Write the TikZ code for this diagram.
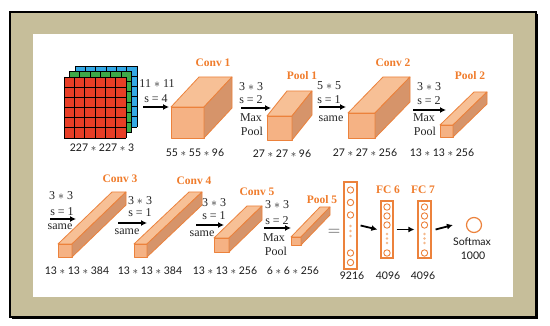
\documentclass[tikz,border=0pt]{standalone}
\usepackage{fontspec}
\setmainfont{Liberation Serif}
\setsansfont{Lato}
\usetikzlibrary{arrows.meta,calc}
\definecolor{frameback}{RGB}{198,190,154}
\definecolor{boxfront}{RGB}{245,178,132}
\definecolor{boxtop}{RGB}{247,192,150}
\definecolor{boxside}{RGB}{214,148,106}
\definecolor{boxedge}{RGB}{236,130,60}
\definecolor{lblorange}{RGB}{240,125,45}
\definecolor{gridred}{RGB}{232,62,38}
\definecolor{gridgreen}{RGB}{62,168,72}
\definecolor{gridblue}{RGB}{52,168,228}
\definecolor{dotorange}{RGB}{245,185,140}

% cuboid: left, right, top, bottom of front face, depth dx, dy
\newcommand{\layerbox}[6]{%
    \filldraw[frontface] (#1,#3) rectangle (#2,#4);
    \filldraw[topface] (#1,#3) -- ++(#5,-#6) -- ++({#2-#1},0) -- (#2,#3) -- cycle;
    \filldraw[sideface] (#2,#3) -- ++(#5,-#6) -- ++(0,{#4-#3}) -- (#2,#4) -- cycle;
}

\begin{document}
\begin{tikzpicture}[x=1pt,y=-1pt,
    frontface/.style={fill=boxfront, draw=boxedge, line width=0.8pt, line join=round},
    topface/.style={fill=boxtop, draw=boxedge, line width=0.8pt, line join=round},
    sideface/.style={fill=boxside, draw=boxedge, line width=0.8pt, line join=round},
    num/.style={font=\sffamily\fontsize{10.5}{11}\selectfont, text=black!90, inner sep=0pt},
    opt/.style={font=\fontsize{12}{13}\selectfont, text=black!85, inner sep=0pt},
    ttl/.style={font=\bfseries\fontsize{11.5}{12}\selectfont, text=lblorange, inner sep=0pt},
    arr/.style={-{Latex[length=6pt,width=6pt]}, line width=1.8pt},
    fcbar/.style={draw=boxedge, line width=1.2pt, fill=white, inner sep=0pt},
    neuron/.style={draw=boxedge, line width=0.9pt, fill=white}]
    \useasboundingbox (0,0) rectangle (550,326);

    % Frame
    \fill[frameback] (10,12) rectangle (536,317);
    \draw[line width=2pt] (10,12) rectangle (536,317);
    \draw[line width=1.2pt] (537.5,14) -- (537.5,318.5) -- (12,318.5);
    \fill[white] (33,34) rectangle (513,297);

    % Input image, three channels
    \foreach \gc/\off in {gridblue/11, gridgreen/5.5, gridred/0} {
        \begin{scope}[shift={({64+\off},{77-\off})}]
            \fill[\gc] (0,0) rectangle (62,61);
            \foreach \i in {0,...,6} {
                \draw[line width=0.9pt] ({\i*62/6},0) -- ({\i*62/6},61);
                \draw[line width=0.9pt] (0,{\i*61/6}) -- (62,{\i*61/6});
            }
        \end{scope}
    }
    \node[num] (inp) at (102,148) {227 $\ast$ 227 $\ast$ 3};

    % Conv 1
    \coordinate (a1s) at (143,107);
    \coordinate (a1e) at (169,107);
    \draw[arr] (a1s) -- (a1e);
    \node[opt] (k1) at (157,84) {11 $\ast$ 11};
    \node[opt] (s1) at (156,99) {s = 4};
    \layerbox{171}{204}{107}{138}{28}{30}
    \node[ttl] (tConv1) at (213,63) {Conv 1};
    \node[num] (dConv1) at (195,153) {55 $\ast$ 55 $\ast$ 96};

    % Pool 1
    \coordinate (a2s) at (241,108);
    \coordinate (a2e) at (271,108);
    \draw[arr] (a2s) -- (a2e);
    \node[opt] (k2) at (251,87) {3 $\ast$ 3};
    \node[opt] (s2) at (251,100) {s = 2};
    \node[opt] (m2) at (251,118) {Max};
    \node[opt] (p2) at (252,131) {Pool};
    \layerbox{267}{292}{116}{140}{20}{25}
    \node[ttl] (tPool1) at (302,76) {Pool 1};
    \node[num] (dPool1) at (282,154) {27 $\ast$ 27 $\ast$ 96};

    % Conv 2
    \coordinate (a3s) at (319,107);
    \coordinate (a3e) at (346,107);
    \draw[arr] (a3s) -- (a3e);
    \node[opt] (k3) at (329,86) {5 $\ast$ 5};
    \node[opt] (s3) at (329,100) {s = 1};
    \node[opt] (m3) at (331,119) {same};
    \layerbox{348}{375}{113}{138}{35}{36}
    \node[ttl] (tConv2) at (393,63) {Conv 2};
    \node[num] (dConv2) at (365,153) {27 $\ast$ 27 $\ast$ 256};

    % Pool 2
    \coordinate (a4s) at (413,110);
    \coordinate (a4e) at (446,110);
    \draw[arr] (a4s) -- (a4e);
    \node[opt] (k4) at (429,87) {3 $\ast$ 3};
    \node[opt] (s4) at (429,101) {s = 2};
    \node[opt] (m4) at (424,118) {Max};
    \node[opt] (p4) at (425,131) {Pool};
    \layerbox{440}{453}{125}{137}{34}{33}
    \node[ttl] (tPool2) at (470,76) {Pool 2};
    \node[num] (dPool2) at (442,153) {13 $\ast$ 13 $\ast$ 256};

    % Conv 3
    \coordinate (b1s) at (50,219);
    \coordinate (b1e) at (76,219);
    \draw[arr] (b1s) -- (b1e);
    \node[opt] (k5) at (61,196) {3 $\ast$ 3};
    \node[opt] (s5) at (62,212) {s = 1};
    \node[opt] (m5) at (60,227) {same};
    \layerbox{58}{72}{244}{257}{54}{52}
    \node[ttl] (tConv3) at (120,179) {Conv 3};
    \node[num] (dConv3) at (77,271) {13 $\ast$ 13 $\ast$ 384};

    % Conv 4
    \coordinate (b2s) at (118,223);
    \coordinate (b2e) at (147,223);
    \draw[arr] (b2s) -- (b2e);
    \node[opt] (k6) at (140,201) {3 $\ast$ 3};
    \node[opt] (s6) at (140,213) {s = 1};
    \node[opt] (m6) at (127,232) {same};
    \layerbox{134}{147}{244}{257}{55}{52}
    \node[ttl] (tConv4) at (194,181) {Conv 4};
    \node[num] (dConv4) at (150,271) {13 $\ast$ 13 $\ast$ 384};

    % Conv 5
    \coordinate (b3s) at (196,225);
    \coordinate (b3e) at (224,225);
    \draw[arr] (b3s) -- (b3e);
    \node[opt] (k7) at (214,203) {3 $\ast$ 3};
    \node[opt] (s7) at (214,216) {s = 1};
    \node[opt] (m7) at (202,234) {same};
    \layerbox{214}{229}{238}{252}{33}{32}
    \node[ttl] (tConv5) at (257,192) {Conv 5};
    \node[num] (dConv5) at (225,271) {13 $\ast$ 13 $\ast$ 256};

    % Pool 5
    \coordinate (b4s) at (264,228);
    \coordinate (b4e) at (291,228);
    \draw[arr] (b4s) -- (b4e);
    \node[opt] (k8) at (277,205) {3 $\ast$ 3};
    \node[opt] (s8) at (277,221) {s = 2};
    \node[opt] (m8) at (274,238) {Max};
    \node[opt] (p8) at (276,251) {Pool};
    \layerbox{291}{301}{237}{245}{29}{30}
    \node[ttl] (tPool5) at (322,200) {Pool 5};
    \node[num] (dPool5) at (293,271) {6 $\ast$ 6 $\ast$ 256};

    \node[font=\fontsize{17}{17}\selectfont, text=black!75, inner sep=0pt] (eq) at (334,232) {$=$};

    % Fully connected layers
    \node[fcbar, minimum width=13pt, minimum height=87pt] (fcA) at (350.5,225.5) {};
    \foreach \yy in {190,202.5,215,253,262.5}
        \draw[neuron] (350.5,\yy) circle (3.2pt);
    \foreach \yy in {226,231,236}
        \fill[dotorange] (350.5,\yy) circle (1.4pt);
    \node[num] (nA) at (352,276) {9216};

    \node[fcbar, minimum width=12pt, minimum height=57pt] (fcB) at (387,229.5) {};
    \node[fcbar, minimum width=13pt, minimum height=57pt] (fcC) at (424.5,229.5) {};
    \foreach \xx in {387,424.5} {
        \foreach \yy in {207,216,225,253}
            \draw[neuron] (\xx,\yy) circle (3.2pt);
        \foreach \yy in {234,238.5,243}
            \fill[dotorange] (\xx,\yy) circle (1.4pt);
    }
    \node[ttl] (tFC6) at (388,190) {FC 6};
    \node[ttl] (tFC7) at (423,190) {FC 7};
    \node[num] (nB) at (388,276) {4096};
    \node[num] (nC) at (423,276) {4096};

    % Softmax
    \node[circle, draw=boxedge, line width=1.2pt, minimum size=15pt, inner sep=0pt] (smax) at (474,225) {};
    \node[num] (tSoft) at (472,242) {Softmax};
    \node[num] (nSoft) at (473,256) {1000};

    \draw[arr] ([xshift=3pt]fcA.east) -- ([xshift=-3pt]fcB.west);
    \draw[arr] ([xshift=3pt]fcB.east) -- ([xshift=-3pt]fcC.west);
    \draw[arr] ([xshift=4pt]fcC.east) -- ([xshift=-13pt]smax.west);
\end{tikzpicture}
\end{document}
